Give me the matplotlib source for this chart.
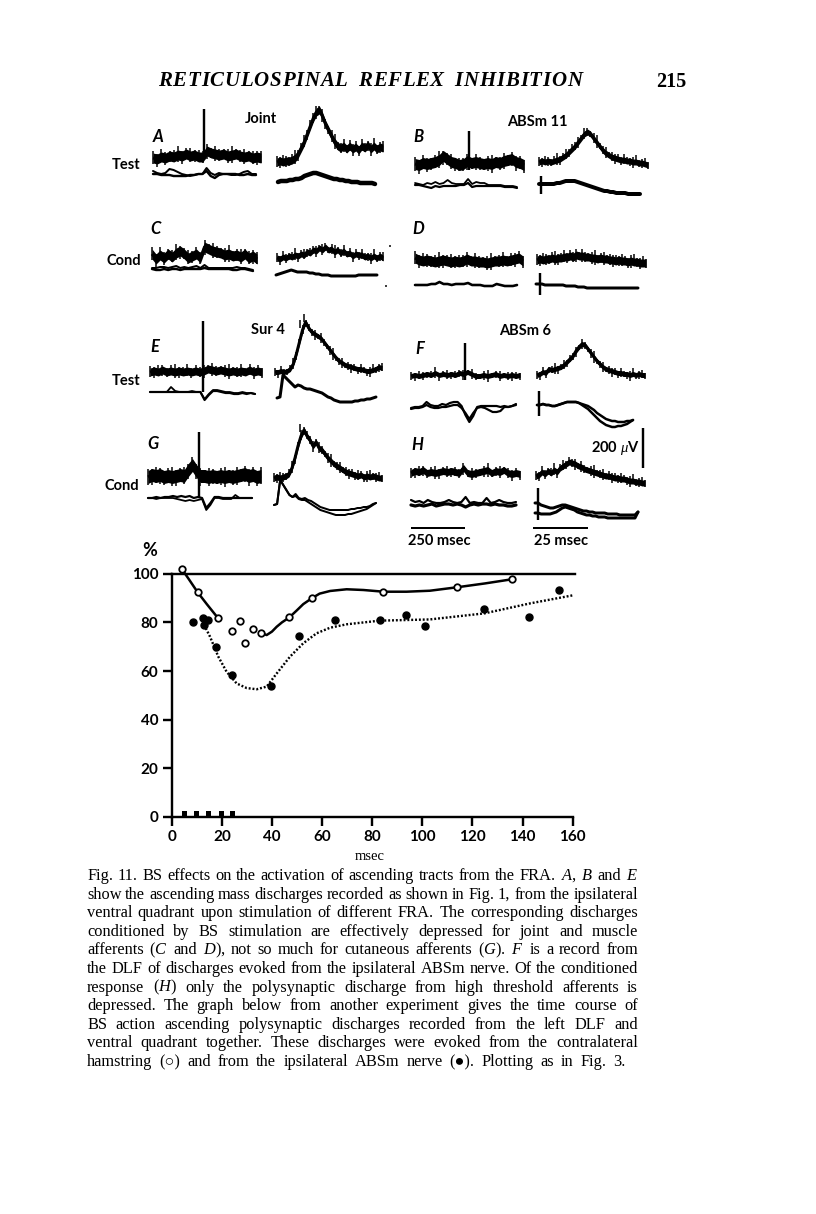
import matplotlib
matplotlib.use("Agg")
import matplotlib.pyplot as plt
import numpy as np

plt.rcParams["font.family"] = ["Liberation Serif", "DejaVu Serif"]
plt.rcParams["mathtext.fontset"] = "custom"
plt.rcParams["mathtext.it"] = "Liberation Serif:italic"
plt.rcParams["mathtext.rm"] = "Liberation Serif"

# Graph values
open_x = [4.0, 10.4, 18.6, 24.2, 27.3, 29.1, 32.3, 35.5, 46.9, 55.9, 84.5, 113.7, 135.7]
open_y = [102, 92.3, 81.6, 76.4, 80.7, 71.5, 77.1, 75.6, 82, 89.9, 92.6, 94.7, 97.7]
filled_x = [8.4, 12.6, 12.9, 14.5, 17.6, 23.9, 39.6, 50.7, 65.3, 83.3, 93.5, 101, 124.8, 142.6, 154.5]
filled_y = [80, 81.6, 79, 81, 69.9, 58.5, 54, 74.4, 81.1, 81, 83.2, 78.5, 85.5, 82.3, 93.2]

solid1_x = [4.0, 7.0, 10.4, 14.0, 18.6]
solid1_y = [102, 97.5, 92.3, 87.5, 81.6]
solid2_x = [35.5, 37.9, 40, 41.9, 44, 46.9, 50, 52.5, 55.9, 59, 63.2, 69.8, 76.5, 84.5, 93.7, 103, 113.7, 125, 135.7]
solid2_y = [75.6, 74.8, 76.2, 78.2, 80, 82, 85, 87.5, 89.9, 91.8, 92.9, 93.6, 93.3, 92.6, 92.6, 93, 94.4, 96, 97.7]
dotted_x = [12.9, 15.3, 18.6, 21.9, 25.9, 29.9, 33.9, 37.9, 41.9, 47.2, 52.5, 57.8, 63.2, 69.8, 83, 103, 124.8, 143, 160.5]
dotted_y = [79, 74.1, 65.9, 59.7, 54.9, 53, 52.5, 53.6, 59, 65.9, 71.4, 75.5, 77.8, 79.2, 80.7, 81.2, 83.7, 87.8, 91.2]

stim_x = [5, 9.8, 14.7, 19.7, 24.2]
stim_h = [2.5, 2.5, 2.5, 2.5, 2.5]
ticks_x = [0, 20, 40, 60, 80, 100, 120, 140, 160]
ticks_y = [0, 20, 40, 60, 80, 100]

# Oscillograph traces: amplitude in page pixels, evenly spaced in time
A_L_UP = [0, -1, 1, 0, 2, 1, 3, 2, 4, 2, 3, 1, 1, 7, 5, 4, 3, 4, 2, 3, 4, 2, 1, 2, 0, 1, 0]
A_L_LO1 = [3, 1, 0, 1, 5, 4, 2, 0, -1, -2, -1, 0, 0, 6, 1, -1, 1, 0, 0, -1, -1, 0, 2, 3, 0, 0]
A_L_LO2 = [0, 0, -1, -1, -1, -2, -2, -2, -2, -1, -1, 0, 0, 3, -2, -4, -1, 0, 0, 0, 0, -1, -1, 0, -1, -1]
A_R_UP = [0, 1, 0, 1, 1, 2, 4, 8, 14, 20, 28, 36, 44, 50, 52, 46, 38, 32, 26, 20, 16, 14, 16, 13, 16, 13, 15, 12, 16, 14, 17, 13, 16, 13, 15, 14]
A_R_LO = [0, 1, 1, 1, 2, 2, 3, 3, 4, 6, 7, 8, 9, 9, 8, 7, 6, 5, 4, 3, 3, 2, 2, 1, 1, 0, 0, 0, -1, -1, -1, -1, -1, -2]

C_L_UP = [3, -2, 2, -1, 3, 0, 4, 6, 3, -1, 1, 3, -1, 10, 8, 6, 5, 4, 2, 3, 1, 2, 0, 3, -1, 1, -2]
C_L_LO1 = [0, 0, 1, 1, 0, 1, 2, 0, 1, 0, 1, 2, 0, 3, 0, 0, 0, 0, 0, 0, 0, 1, 0, 0, -1, -2]
C_L_LO2 = [-1, -2, -2, -1, -2, -1, -1, -2, -1, -1, -1, -1, -1, 0, -1, -1, -1, -1, -1, -1, -2, -2, -1, -1, -2, -3]
C_R_UP = [0, -1, 1, 0, 2, 1, 3, 2, 4, 3, 6, 5, 8, 7, 10, 8, 11, 8, 9, 6, 8, 5, 7, 4, 5, 2, 4, 3, 3, 1, 2, 0, 2, 0, 2, 0]
C_R_LO = [0, 1, 2, 3, 4, 5, 4, 3, 3, 3, 3, 2, 2, 1, 1, 0, 0, 0, -1, -1, -1, -1, -1, -1, -1, -1, -1, 0, 0, 0, 0, 0, 0, 0]

B_L_UP = [1, 0, 2, 1, 2, 3, 5, 9, 6, 3, 2, 0, 1, 4, 2, 3, 2, 1, 2, 1, 3, 2, 4, 5, 6, 3, 2, 0]
B_L_LO1 = [2, 1, 0, 2, 1, 3, 1, 2, 5, 2, 1, 1, 1, 6, 1, 3, 2, 2, 0, 0, 0, 0, -1, -1, -1, -2]
B_L_LO2 = [0, 0, -1, -2, -3, -1, -2, -1, -1, -1, -1, 0, 0, 2, -2, -1, -1, -1, -1, -1, -1, -1, -2, -2, -2, -3]
B_R_UP = [0, 1, 0, 1, 0, 1, 2, 3, 5, 7, 10, 13, 16, 20, 24, 28, 30, 28, 24, 20, 16, 12, 9, 7, 5, 4, 3, 2, 2, 1, 1, 0, 0, -1, -1, -2, -3]
B_R_LO = [0, 0, 0, 0, 0, 0, 1, 1, 2, 3, 3, 3, 3, 2, 1, 0, -1, -2, -3, -4, -5, -6, -7, -7, -8, -8, -9, -9, -9, -9, -10, -10, -10, -10, -10]

D_L_UP = [3, 1, 0, 1, 0, -1, 0, 1, 0, -1, 0, -1, 0, 2, 0, 0, -1, -1, -2, -1, 0, 0, 1, 0, 1, 2, 3, 0]
D_L_LO = [0, 0, 0, 0, 1, 1, 3, 1, 1, 0, 1, 1, 1, 2, 0, 0, 0, -1, -1, -1, 1, 0, -1, -1, -1, 0]
D_R_UP = [0, 1, 0, 1, 1, 2, 1, 2, 2, 3, 3, 4, 3, 5, 4, 4, 3, 3, 2, 2, 1, 2, 1, 1, 0, 0, -1, 0, -1, -1, -2, -1, -2, -2, -3, -3, -3]
D_R_LO = [4, 4, 4, 3, 3, 3, 3, 3, 3, 3, 2, 2, 2, 2, 1, 1, 1, 0, 0, 0, 0, 0, 0, 0, 0, 0, 0, 0, 0, 0, 0, 0, 0, 0, 0]

E_L_UP = [0, 1, 0, 2, 0, 1, 0, 1, 0, 1, 0, 1, 0, 1, 3, 2, 1, 2, 1, 0, 1, 0, 1, 0, 2, 0, 1, 0]
E_L_LO1 = [0, 0, 0, 0, 0, 0, 0, 0, 0, 0, 0, 0, 0, -8, -3, 1, 1, 0, -1, -1, -2, -2, -1, -2, -1, -2]
E_L_LO2 = [0, 0, 0, 0, 0, 5, 1, 0, 0, 0, 1, 0, 0, -7, -2, 2, 2, 1, 0, 0, -1, -1, 0, -1, -1, -2]
E_R_UP = [0, 0, 1, 0, 1, 3, 8, 18, 30, 42, 50, 44, 40, 38, 36, 34, 30, 26, 22, 18, 14, 11, 9, 7, 6, 5, 4, 3, 3, 2, 1, 1, 2, 3, 5, 4]
E_R_LO = [0, 1, 23, 20, 17, 14, 11, 13, 12, 10, 9, 9, 8, 7, 6, 5, 3, 1, 0, -2, -3, -4, -4, -4, -4, -4, -3, -3, -2, -2, -1, -1, 0, 1]

G_L_UP = [0, 2, 1, 2, 0, 1, 0, 1, 2, 1, 7, 12, 6, 1, 1, 0, 1, 0, 1, 0, 1, 0, 1, 2, 3, 1, 2, 0, 1]
G_L_LO1 = [0, 0, 1, 0, 1, 1, 2, 1, 2, 1, 2, 0, 1, 0, -10, -5, 1, 1, 0, 0, 0, 0, 0, 0, 0, 0]
G_L_LO2 = [0, 0, -1, 0, 0, 0, 0, -1, -2, -3, -2, -3, -2, -1, -12, -7, 0, 0, -1, -1, -1, 3, 0, 0, 0, 0]
G_R_UP = [0, 1, 0, 1, 2, 4, 10, 20, 32, 42, 48, 42, 38, 32, 36, 30, 28, 24, 20, 17, 14, 12, 10, 8, 6, 5, 4, 3, 2, 3, 1, 2, 1, 2, 1, 0, 0]
G_R_LO1 = [0, 1, 25, 20, 15, 10, 8, 11, 7, 6, 7, 5, 4, 2, 0, -2, -3, -4, -5, -5, -5, -5, -5, -5, -5, -4, -4, -3, -3, -2, -2, -1, 1, 2]
G_R_LO2 = [0, 1, 25, 20, 15, 10, 8, 9, 6, 5, 5, 3, 1, -1, -3, -5, -6, -7, -8, -9, -10, -10, -10, -10, -9, -9, -8, -7, -6, -5, -4, -2, 0, 2]

F_L_UP = [0, 1, 0, 1, 2, 1, 3, 1, 2, 1, 2, 1, 3, 2, 4, 2, 0, 0, 1, 0, 1, 2, 0, 1, 0, 1, 0, 1]
F_L_LO1 = [-1, 0, 0, 1, 5, 2, 1, 1, 3, 2, 4, 5, 5, 1, -8, -15, -9, 0, 1, 1, 1, 1, 1, 0, 1, 0, 1, 3]
F_L_LO2 = [-2, -1, -1, 0, 2, 0, -1, -1, 0, 0, 1, 2, 2, -1, -6, -12, -6, -1, 0, -1, -3, -5, -5, -4, 0, 0, 1, 2]
F_R_UP = [0, 1, 3, 2, 6, 5, 6, 7, 8, 10, 13, 16, 19, 24, 28, 31, 30, 26, 22, 18, 14, 11, 8, 6, 5, 4, 3, 2, 2, 1, 1, 0, 1, 0, 1, 0, 0]
F_R_LO1 = [0, 0, 1, 0, 0, -1, -1, 0, 1, 2, 3, 3, 3, 3, 2, 0, -2, -4, -7, -10, -13, -16, -18, -20, -21, -22, -22, -21, -21, -20, -19, -17, -15]
F_R_LO2 = [0, 0, 1, 0, 0, -1, -1, 0, 1, 2, 3, 3, 3, 3, 2, 1, 0, -1, -3, -5, -8, -10, -12, -14, -15, -16, -16, -17, -17, -17, -16, -16, -15]

H_L_UP = [1, 3, 2, 4, 1, 2, 1, 2, 3, 2, 3, 2, 1, 6, 1, 0, 1, 2, 3, 4, 1, 3, 2, 4, 1, 0, 1, 0]
H_L_LO1 = [3, 1, 2, 0, 3, 1, 0, 0, 1, 3, 1, 0, 1, 6, 0, 1, 0, 0, 5, 0, 1, 3, 1, 0, 0, 1]
H_L_LO2 = [-2, -3, -2, -3, -2, -1, -3, -2, -1, -1, -2, -1, -2, -4, -2, -1, -2, -1, -1, -2, -1, -2, -2, -3, -3, -2]
H_R_UP = [0, 1, 4, 2, 5, 3, 6, 4, 8, 10, 12, 14, 13, 12, 10, 9, 7, 6, 5, 4, 3, 2, 1, 0, 0, -1, -2, -2, -3, -3, -4, -5, -5, -6, -6, -7, -7]
H_R_LO1 = [10, 10, 8, 7, 6, 5, 5, 6, 7, 8, 8, 7, 6, 5, 4, 3, 2, 2, 1, 1, 0, 0, 0, 0, -1, -1, -1, -1, -2, -2, -2, -2, -2, -2, 1]
H_R_LO2 = [0, 0, -1, -1, -1, -1, 0, 1, 3, 5, 6, 5, 4, 3, 1, 0, -1, -2, -2, -3, -3, -4, -4, -4, -5, -5, -5, -5, -5, -5, -5, -5, -5, -5, 1]

# roughness of the sweep edges, cycled along each band
fringe_up = [2, 0, 3, 1, 0, 2, 4, 0, 1, 3, 0, 2, 1]
fringe_down = [1, 3, 0, 2, 1, 0, 2, 3, 0, 1, 2, 0]

caption = [
    r"Fig. 11. BS effects on the activation of ascending tracts from the FRA. $\mathit{A}$, $\mathit{B}$ and $\mathit{E}$",
    "show the ascending mass discharges recorded as shown in Fig. 1, from the ipsilateral",
    "ventral quadrant upon stimulation of different FRA. The corresponding discharges",
    "conditioned by BS stimulation are effectively depressed for joint and muscle",
    r"afferents ($\mathit{C}$ and $\mathit{D}$), not so much for cutaneous afferents ($\mathit{G}$). $\mathit{F}$ is a record from",
    "the DLF of discharges evoked from the ipsilateral ABSm nerve. Of the conditioned",
    r"response ($\mathit{H}$) only the polysynaptic discharge from high threshold afferents is",
    "depressed. The graph below from another experiment gives the time course of",
    "BS action ascending polysynaptic discharges recorded from the left DLF and",
    "ventral quadrant together. These discharges were evoked from the contralateral",
    "hamstring (\u25cb) and from the ipsilateral ABSm nerve (\u25cf). Plotting as in Fig. 3.",
]

W, H = 816, 1214
fig = plt.figure(figsize=(W / 100, H / 100), dpi=100, facecolor="white")


def px(n):
    return n * 72 / 100


# The graph
ax = fig.add_axes([171.7 / W, 1 - 817 / H, 401 / W, 243.3 / H])
ax.set_xlim(0, 160)
ax.set_ylim(0, 100)
ax.patch.set_alpha(0)
ax.spines["top"].set_visible(False)
ax.spines["right"].set_visible(False)
ax.spines["left"].set_linewidth(px(2.4))
ax.spines["bottom"].set_linewidth(px(2.4))
ax.axhline(100, color="black", lw=px(2.4), xmax=1.005, clip_on=False)
ax.bar(stim_x, stim_h, width=2.0, color="black")
ax.plot(solid1_x, solid1_y, color="black", lw=px(2.5), clip_on=False)
ax.plot(solid2_x, solid2_y, color="black", lw=px(2.5), clip_on=False)
ax.plot(dotted_x, dotted_y, color="black", lw=px(2.4), ls=(0, (0.8, 0.8)), clip_on=False)
ax.plot(open_x, open_y, "o", ms=px(6.5), mfc="white", mec="black", mew=px(1.8), ls="none", clip_on=False, zorder=5)
ax.plot(filled_x, filled_y, "o", ms=px(7), color="black", ls="none", clip_on=False, zorder=5)
ax.set_xticks(ticks_x)
ax.set_yticks(ticks_y)
ax.tick_params(axis="both", length=px(9), width=px(2.4), pad=3, labelsize=11)
for lab in ax.get_xticklabels() + ax.get_yticklabels():
    lab.set_family("Lato")
    lab.set_weight("bold")

# Whole page in pixel coordinates for the records and the text
page = fig.add_axes([0, 0, 1, 1])
page.set_xlim(0, W)
page.set_ylim(H, 0)
page.axis("off")


def band(x0, x1, base, vals, width):
    # thick noisy sweep, flat at both ends, with a rough edge
    xs = np.linspace(x0, x1, len(vals))
    ys = base - np.array(vals)
    page.fill_between(xs, ys - width / 2, ys + width / 2, color="black", lw=0)
    page.plot(xs, ys, color="black", lw=px(3), solid_capstyle="butt")
    up = np.resize(fringe_up, len(vals))
    down = np.resize(fringe_down, len(vals))
    page.vlines(xs, ys - width / 2 - up, ys + width / 2 + down, color="black", lw=px(1.5))


def trace(x0, x1, base, vals, width):
    # values go up the page from the baseline
    xs = np.linspace(x0, x1, len(vals))
    ys = base - np.array(vals)
    page.plot(xs, ys, color="black", lw=px(width), solid_joinstyle="round", solid_capstyle="round")


def spike(x, y0, y1, width=2.4):
    page.plot([x, x], [y0, y1], color="black", lw=px(width), solid_capstyle="butt")


def label(x, y, s, size=10.5, **kw):
    kw.setdefault("family", "Lato")
    kw.setdefault("weight", "bold")
    page.text(x, y, s, fontsize=size, ha="center", va="center", **kw)


# A, C
band(153, 261, 158, A_L_UP, 10)
trace(153, 256, 174, A_L_LO1, 2)
trace(153, 256, 174, A_L_LO2, 2.4)
spike(204, 109, 160)
band(277, 383, 162, A_R_UP, 8)
trace(278, 375, 182, A_R_LO, 4.5)
band(152, 257, 257, C_L_UP, 10)
trace(152, 253, 268, C_L_LO1, 2)
trace(152, 253, 268, C_L_LO2, 2.4)
band(277, 383, 258, C_R_UP, 6)
trace(276, 377, 275, C_R_LO, 3)

# B, D
band(415, 524, 165, B_L_UP, 11)
trace(415, 517, 185, B_L_LO1, 1.8)
trace(415, 517, 185, B_L_LO2, 2.2)
spike(469, 131, 170)
band(539, 648, 162, B_R_UP, 6)
trace(539, 640, 184, B_R_LO, 4)
spike(541, 176, 194)
band(415, 523, 261, D_L_UP, 10)
trace(415, 517, 285, D_L_LO, 2.6)
band(537, 646, 260, D_R_UP, 8)
trace(536, 638, 288, D_R_LO, 3)
spike(540, 273, 295)

# E, G
band(150, 262, 372, E_L_UP, 8)
trace(150, 255, 392, E_L_LO1, 2.2)
trace(150, 255, 392, E_L_LO2, 1.8)
spike(203, 321, 392)
band(275, 382, 372, E_R_UP, 5)
trace(277, 376, 398, E_R_LO, 3)
band(148, 261, 477, G_L_UP, 13)
trace(148, 252, 498, G_L_LO1, 2.2)
trace(148, 252, 498, G_L_LO2, 1.8)
spike(199, 432, 498)
band(274, 382, 478, G_R_UP, 6)
trace(274, 376, 505, G_R_LO1, 2)
trace(274, 376, 505, G_R_LO2, 2)

# F, H
band(411, 520, 376, F_L_UP, 5)
trace(411, 516, 407, F_L_LO1, 2.2)
trace(411, 516, 407, F_L_LO2, 2.2)
spike(465, 343, 380)
band(537, 645, 375, F_R_UP, 5)
trace(537, 633, 405, F_R_LO1, 2.5)
trace(537, 633, 405, F_R_LO2, 2.5)
spike(539, 391, 416)
band(411, 520, 474, H_L_UP, 7)
trace(411, 516, 503, H_L_LO1, 2.2)
trace(411, 516, 503, H_L_LO2, 3.2)
band(536, 645, 476, H_R_UP, 6)
trace(535, 638, 513, H_R_LO1, 3)
trace(535, 638, 513, H_R_LO2, 3)
spike(538, 488, 520)

# stray specks and overshoot dashes on the plate
for x, y0, y1 in [(304, 314, 322), (300, 432, 424), (390, 245, 247), (386, 285, 287), (300, 320, 328)]:
    spike(x, y0, y1, 1.5)

# scale bars
page.plot([412, 464], [528, 528], color="black", lw=px(2))
page.plot([534, 587], [528, 528], color="black", lw=px(2))
spike(643, 428, 468)

# panel labels
for x, y, s in [(158, 137, "A"), (156, 229, "C"), (418, 137, "B"), (418, 229, "D"),
                (155, 347, "E"), (153, 444, "G"), (420, 349, "F"), (417, 445, "H")]:
    label(x, y, s, size=12, style="italic")
label(261, 119, "Joint")
label(537, 122, "ABSm 11")
label(268, 330, "Sur 4")
label(525, 331, "ABSm 6")
label(126, 165, "Test")
label(124, 261, "Cond")
label(126, 381, "Test")
label(122, 486, "Cond")
label(615, 448, "200 $\\mu$V")
label(439, 541, "250 msec")
label(561, 541, "25 msec")
label(150, 551, "%", size=13)
label(370, 857, "msec", family="Liberation Serif", size=10.5, weight="normal")

renderer = fig.canvas.get_renderer()

# running head, letter-spaced to the printed width
head = "RETICULOSPINAL REFLEX INHIBITION"
head_items = [page.text(0, 81, c, fontsize=15, style="italic", weight="bold", ha="left", va="center",
                        family="Liberation Serif") for c in head]
head_w = [t.get_window_extent(renderer).width if c != " " else 0 for t, c in zip(head_items, head)]
head_gap = (424 - sum(head_w) - 2 * 10) / (len(head) - 3)
hx = 158
for t, c, w in zip(head_items, head, head_w):
    t.set_x(hx)
    hx += 10 if c == " " else w + head_gap
page.text(671, 82, "215", fontsize=14.5, weight="bold", ha="center", va="center", family="Liberation Serif")

# caption set justified, word by word
left, right = 87, 638
cap_y = 876
for i, line in enumerate(caption):
    words = line.split(" ")
    items = [page.text(0, cap_y + i * 18.6, w, fontsize=11.8, ha="left", va="center") for w in words]
    widths = [t.get_window_extent(renderer).width for t in items]
    line_end = 626 if i == len(caption) - 1 else right
    gap = (line_end - left - sum(widths)) / (len(words) - 1)
    x = left
    for t, w in zip(items, widths):
        t.set_x(x)
        x += w + gap

fig.savefig("out.png", dpi=100)
